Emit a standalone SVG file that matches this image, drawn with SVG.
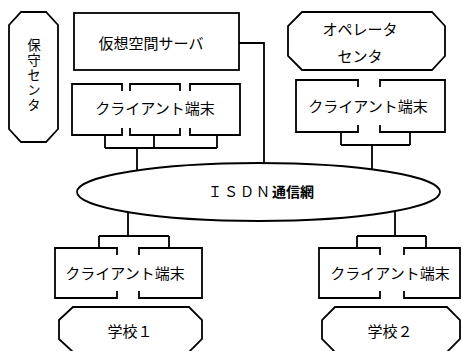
<svg xmlns="http://www.w3.org/2000/svg" width="462" height="351" viewBox="0 0 462 351">
<style>
.s{fill:none;stroke:#000;stroke-width:1.8;stroke-linejoin:miter}
.f{fill:#fff;stroke:#000;stroke-width:1.8}
.t{font-family:"Noto Sans CJK JP","Noto Sans CJK SC",sans-serif;font-size:15px;fill:#000;text-anchor:middle;dominant-baseline:central}
.v{font-family:"Noto Sans CJK JP","Noto Sans CJK SC",sans-serif;font-size:13.5px;fill:#000;writing-mode:vertical-rl;text-anchor:start;letter-spacing:1.5px}
</style>
<rect width="462" height="351" fill="#fff"/>
<g id="connectors" class="s">
<polyline points="239,43 264,43 264,164"/>
<path d="M105,135 V148 M154,135 V148 M217,135 V148 M105,148 H217 M137,148 V172"/>
<path d="M341,132 V145 M410,132 V145 M341,145 H410 M372,145 V170"/>
<path d="M128,212 V236 M99,236 H169 M99,236 V248 M169,236 V248"/>
<path d="M395,211 V236 M357,236 H426 M357,236 V248 M426,236 V248"/>
</g>
<g id="isdn">
<ellipse cx="258.5" cy="192" rx="181.5" ry="29" class="f"/>
<text x="208" y="191" class="t" style="text-anchor:start;font-size:14px"><tspan letter-spacing="2">ＩＳＤＮ</tspan><tspan font-weight="bold">通信網</tspan></text>
</g>
<g id="hoshu">
<polygon class="s" points="21,12 46,12 58,25 58,129 46,142 21,142 9,129 9,25"/>
<text class="v" x="34" y="38">保守センタ</text>
</g>
<g id="server">
<rect x="74" y="13" width="165" height="57" class="s"/>
<text class="t" x="151" y="42">仮想空間サーバ</text>
</g>
<g id="operator">
<polygon class="s" points="302,12 432,12 445,26 445,56 432,70 302,70 288,56 288,26"/>
<text class="t" x="360" y="28">オペレータ</text>
<text class="t" x="360" y="55">センタ</text>
</g>
<g id="client-tl">
<path class="s" d="M122,91 V84 H72 V135 H122 V128 M130,91 V84 H180 V91 M130,128 V135 H180 V128 M190,91 V84 H240 V135 H190 V128"/>
<text class="t" x="155" y="107">クライアント端末</text>
</g>
<g id="client-tr">
<path class="s" d="M358,87 V80 H296 V132 H358 V125 M380,87 V80 H445 V132 H380 V125"/>
<text class="t" x="368" y="105">クライアント端末</text>
</g>
<g id="client-bl">
<path class="s" d="M117,255 V248 H55 V298 H117 V291 M139,255 V248 H202 V298 H139 V291"/>
<text class="t" x="125" y="272">クライアント端末</text>
</g>
<g id="client-br">
<path class="s" d="M380,255 V248 H319 V298 H380 V291 M404,255 V248 H460 V298 H404 V291"/>
<text class="t" x="390" y="272">クライアント端末</text>
</g>
<g id="school1">
<polygon class="s" points="73,307 189,307 202,320 202,339 189,352 73,352 59,339 59,320"/>
<text class="t" x="130" y="330">学校１</text>
</g>
<g id="school2">
<polygon class="s" points="335,307 447,307 460,320 460,339 447,352 335,352 322,339 322,320"/>
<text class="t" x="390" y="330">学校２</text>
</g>
</svg>
